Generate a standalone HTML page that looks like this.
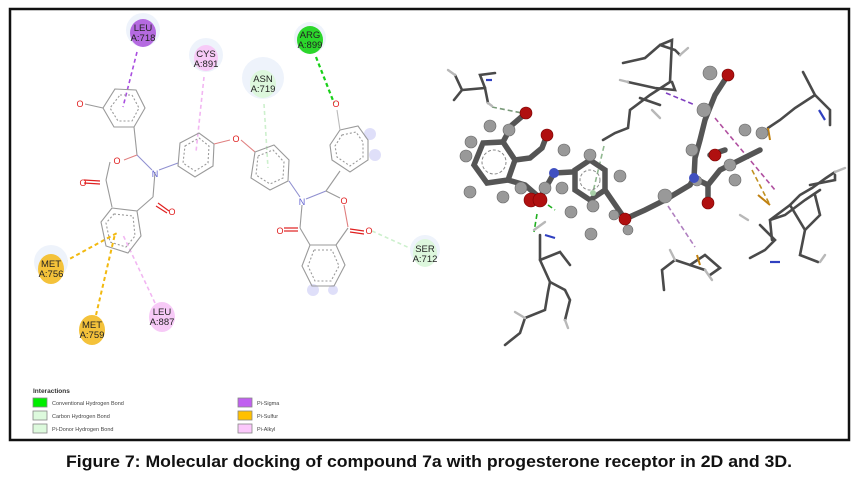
<!DOCTYPE html>
<html><head><meta charset="utf-8"><style>
html,body{margin:0;padding:0;background:#fff;width:858px;height:479px;overflow:hidden}
svg{display:block}
text{font-family:"Liberation Sans",sans-serif}
</style></head><body>
<svg width="858" height="479" viewBox="0 0 858 479" xmlns="http://www.w3.org/2000/svg">
<rect x="10" y="9" width="839" height="431" fill="#fff" stroke="#111" stroke-width="2.5"/>

<!-- ===== 2D diagram ===== -->
<g fill="none" stroke-width="1.6" stroke-dasharray="4,3">
<line x1="137" y1="52" x2="123" y2="107" stroke="#a94ee0"/>
<line x1="204" y1="77" x2="196" y2="152" stroke="#f2b6f2"/>
<line x1="264" y1="104" x2="268" y2="168" stroke="#cdf0cd"/>
<line x1="316" y1="57" x2="334" y2="103" stroke="#19d019" stroke-width="2.2"/>
<line x1="372" y1="231" x2="414" y2="250" stroke="#cdf0cd"/>
<line x1="64" y1="262" x2="117" y2="233" stroke="#f2b90f" stroke-width="2"/>
<line x1="96" y1="315" x2="115" y2="234" stroke="#f2b90f" stroke-width="2"/>
<line x1="155" y1="303" x2="123" y2="235" stroke="#f2b6f2"/>
</g>
<g fill="#eef3fb">
<circle cx="143" cy="30" r="17"/><circle cx="206" cy="55" r="17"/><circle cx="263" cy="78" r="21"/>
<circle cx="310" cy="38" r="16"/><circle cx="425" cy="250" r="15"/><circle cx="51" cy="262" r="17"/>
</g>
<g fill="#d8d8f8" opacity="0.8">
<circle cx="370" cy="134" r="6"/><circle cx="375" cy="155" r="6"/><circle cx="313" cy="290" r="6"/><circle cx="333" cy="290" r="5"/>
</g>
<g stroke-width="0">
<ellipse cx="143" cy="33" rx="13" ry="14" fill="#b46ae0"/>
<ellipse cx="206" cy="58" rx="12" ry="13" fill="#f7caf7"/>
<ellipse cx="263" cy="84" rx="13" ry="14" fill="#ddf7dd"/>
<ellipse cx="310" cy="40" rx="13" ry="14" fill="#2bd62b"/>
<ellipse cx="425" cy="253" rx="12" ry="14" fill="#ddf7dd"/>
<ellipse cx="51" cy="269" rx="13" ry="15" fill="#f4c23a"/>
<ellipse cx="92" cy="330" rx="13" ry="15" fill="#f4c23a"/>
<ellipse cx="162" cy="317" rx="13" ry="15" fill="#f7caf7"/>
</g>
<g font-size="9.5" fill="#222" text-anchor="middle">
<text x="143" y="31">LEU</text><text x="143" y="41">A:718</text>
<text x="206" y="57">CYS</text><text x="206" y="67">A:891</text>
<text x="263" y="82">ASN</text><text x="263" y="92">A:719</text>
<text x="310" y="38">ARG</text><text x="310" y="48">A:899</text>
<text x="425" y="252">SER</text><text x="425" y="262">A:712</text>
<text x="51" y="267">MET</text><text x="51" y="277">A:756</text>
<text x="92" y="328">MET</text><text x="92" y="338">A:759</text>
<text x="162" y="315">LEU</text><text x="162" y="325">A:887</text>
</g>
<g stroke="#9a9a9a" stroke-width="1.1" fill="none">
<polygon points="115,89 136,90 145,108 134,127 114,127 103,108"/>
<polygon points="120,95 132,95 139,108 132,121 118,121 110,108" stroke-dasharray="2,2"/>
<line x1="134" y1="127" x2="137" y2="155"/>
<line x1="137" y1="155" x2="124" y2="160" stroke="#e08080"/>
<line x1="110" y1="162" x2="106" y2="180"/>
<line x1="106" y1="180" x2="112" y2="207"/>
<line x1="155" y1="172" x2="153" y2="197"/>
<line x1="153" y1="197" x2="137" y2="211"/>
<line x1="137" y1="155" x2="152" y2="170" stroke="#9090d0"/>
<line x1="159" y1="170" x2="178" y2="163" stroke="#9090d0"/>
<polygon points="112,208 137,211 141,236 128,253 106,246 101,222"/>
<polygon points="114,214 133,216 135,236 126,247 110,242 106,223" stroke-dasharray="2,2"/>
<polygon points="180,143 199,133 214,144 213,166 195,177 178,166"/>
<polygon points="185,146 199,138 209,146 208,163 195,171 183,163" stroke-dasharray="2,2"/>
<line x1="214" y1="144" x2="230" y2="140" stroke="#e08080"/>
<line x1="241" y1="140" x2="255" y2="152" stroke="#e08080"/>
<polygon points="255,152 274,145 289,160 288,181 270,190 251,178"/>
<polygon points="258,156 273,150 284,162 283,178 270,184 256,175" stroke-dasharray="2,2"/>
<line x1="289" y1="181" x2="300" y2="197" stroke="#9090d0"/>
<line x1="306" y1="199" x2="326" y2="191" stroke="#9090d0"/>
<line x1="302" y1="205" x2="300" y2="228"/>
<line x1="326" y1="191" x2="340" y2="198"/>
<line x1="344" y1="205" x2="348" y2="227" stroke="#e08080"/>
<line x1="348" y1="228" x2="336" y2="245"/>
<line x1="300" y1="228" x2="310" y2="245"/>
<polygon points="310,245 336,245 345,265 334,286 312,286 302,266"/>
<polygon points="314,250 332,250 339,266 331,281 315,281 308,266" stroke-dasharray="2,2"/>
<line x1="326" y1="191" x2="340" y2="171"/>
<polygon points="340,130 358,126 368,140 368,160 350,172 332,160 330,145"/>
<polygon points="342,135 356,132 363,142 363,157 350,166 337,157 335,146" stroke-dasharray="2,2"/>
<line x1="340" y1="130" x2="337" y2="110" stroke="#bbb"/>
<line x1="103" y1="108" x2="85" y2="104"/>
</g>
<g stroke="#e02020" stroke-width="1.2" fill="none">
<line x1="84" y1="180" x2="100" y2="181"/><line x1="84" y1="183" x2="100" y2="184"/>
<line x1="158" y1="203" x2="169" y2="211"/><line x1="156" y1="206" x2="167" y2="213"/>
<line x1="284" y1="228" x2="298" y2="228"/><line x1="284" y1="231" x2="298" y2="231"/>
<line x1="350" y1="229" x2="364" y2="231"/><line x1="350" y1="232" x2="364" y2="234"/>
</g>
<g font-size="9" text-anchor="middle" fill="#e02020">
<text x="80" y="107">O</text><text x="117" y="164">O</text><text x="236" y="142">O</text>
<text x="344" y="204">O</text><text x="336" y="107">O</text>
<text x="83" y="186">O</text><text x="172" y="215">O</text><text x="280" y="234">O</text><text x="369" y="234">O</text>
</g>
<g font-size="9" text-anchor="middle" fill="#6060d0"><text x="155" y="177">N</text><text x="302" y="205">N</text></g>

<text x="33" y="393" font-size="6.5" font-weight="bold" fill="#333">Interactions</text>
<g stroke="#888" stroke-width="0.8">
<rect x="33" y="398" width="14" height="9" fill="#00ee00"/>
<rect x="33" y="411" width="14" height="9" fill="#ddfadd"/>
<rect x="33" y="424" width="14" height="9" fill="#ddfadd"/>
<rect x="238" y="398" width="14" height="9" fill="#c060f0"/>
<rect x="238" y="411" width="14" height="9" fill="#ffc000"/>
<rect x="238" y="424" width="14" height="9" fill="#fbc8fb"/>
</g>
<g font-size="5.5" fill="#444">
<text x="52" y="405">Conventional Hydrogen Bond</text>
<text x="52" y="418">Carbon Hydrogen Bond</text>
<text x="52" y="431">Pi-Donor Hydrogen Bond</text>
<text x="257" y="405">Pi-Sigma</text>
<text x="257" y="418">Pi-Sulfur</text>
<text x="257" y="431">Pi-Alkyl</text>
</g>

<!-- ===== 3D view ===== -->
<g stroke-dasharray="5,3" stroke-width="1.6" fill="none">
<line x1="492" y1="107" x2="522" y2="113" stroke="#7a9a7a"/>
<line x1="537" y1="214" x2="534" y2="232" stroke="#20b020"/>
<line x1="548" y1="205" x2="555" y2="210" stroke="#20b020"/>
<line x1="604" y1="146" x2="592" y2="196" stroke="#90b890"/>
<line x1="666" y1="93" x2="695" y2="105" stroke="#8040c0"/>
<line x1="715" y1="118" x2="775" y2="190" stroke="#b050a0"/>
<line x1="668" y1="206" x2="695" y2="247" stroke="#b080c0"/>
<line x1="752" y1="170" x2="770" y2="205" stroke="#c09020"/>
</g>
<g stroke="#4a4a4a" stroke-width="2.6" fill="none" stroke-linecap="round">
<polyline points="455,75 462,90 485,88 488,103"/><polyline points="485,88 480,75 495,73"/><line x1="462" y1="90" x2="454" y2="100"/>
<polyline points="623,63 645,58 660,45 672,40 670,82 650,95 630,110 628,128 615,133 603,140"/><polyline points="660,45 675,50 680,55"/>
<polyline points="628,82 655,88 675,90 672,82"/><polyline points="640,98 660,105"/>
<polyline points="803,72 815,95 795,108 780,120 768,128"/><polyline points="815,95 830,110 830,125"/>
<polyline points="540,235 540,260 550,282 548,292 545,310 525,318 520,333 505,345"/>
<polyline points="550,282 565,290 570,300 565,320"/><polyline points="540,260 560,252 570,265"/>
<polyline points="772,240 770,220 790,205 800,195 812,188 826,178 835,172"/>
<polyline points="760,225 775,240 765,250 750,258"/><polyline points="790,205 805,230 800,255 818,262"/>
<polyline points="770,220 785,215 805,200 820,190"/><polyline points="805,230 820,215 815,195"/>
<polyline points="705,255 690,265 675,260 662,270 664,290"/><polyline points="705,255 720,268 710,275"/><polyline points="690,265 705,270"/>
<polyline points="810,185 835,180 835,175"/>
</g>
<g stroke="#b8b8b8" stroke-width="2.4" fill="none" stroke-linecap="round">
<line x1="488" y1="103" x2="492" y2="106"/><line x1="455" y1="75" x2="448" y2="70"/>
<line x1="620" y1="80" x2="628" y2="82"/><line x1="680" y1="55" x2="688" y2="48"/><line x1="652" y1="110" x2="660" y2="118"/>
<line x1="545" y1="222" x2="534" y2="230"/><line x1="565" y1="320" x2="568" y2="328"/><line x1="525" y1="318" x2="515" y2="312"/>
<line x1="820" y1="262" x2="825" y2="255"/><line x1="705" y1="270" x2="712" y2="280"/><line x1="675" y1="260" x2="670" y2="250"/>
<line x1="748" y1="220" x2="740" y2="215"/><line x1="835" y1="172" x2="845" y2="168"/>
</g>
<g stroke="#3040c0" stroke-width="2.2"><line x1="486" y1="80" x2="492" y2="80"/><line x1="545" y1="235" x2="555" y2="238"/><line x1="819" y1="110" x2="825" y2="120"/><line x1="770" y1="262" x2="780" y2="262"/></g>
<g stroke="#c08010" stroke-width="2"><line x1="768" y1="128" x2="770" y2="140"/><line x1="758" y1="195" x2="770" y2="205"/><line x1="697" y1="255" x2="700" y2="265"/></g>

<g stroke="#555" stroke-width="5.5" fill="none" stroke-linecap="round">
<polygon points="483,143 503,142 515,160 508,180 487,183 474,165"/>
<polyline points="503,142 512,125 526,113"/>
<polyline points="515,160 530,158 542,148 547,135"/>
<polyline points="508,180 525,185 540,198"/>
<polyline points="540,198 554,173 572,172"/>
<polygon points="575,170 590,160 605,170 605,190 590,200 575,190"/>
<polyline points="605,190 625,219 645,210 665,200 690,185 694,178"/>
<polyline points="694,178 695,158 700,140 705,120 715,95 728,75"/>
<polyline points="694,178 708,185 708,203"/>
<polyline points="708,185 720,170 740,160 760,150"/>
<polyline points="710,155 725,150"/>
</g>
<g stroke="#888" stroke-width="1" fill="none" stroke-dasharray="3,2"><circle cx="494" cy="162" r="12"/><circle cx="590" cy="180" r="10"/></g>
<g fill="#999" stroke="#666" stroke-width="0.6">
<circle cx="490" cy="126" r="6"/><circle cx="509" cy="130" r="6"/><circle cx="471" cy="142" r="6"/><circle cx="466" cy="156" r="6"/>
<circle cx="470" cy="192" r="6"/><circle cx="503" cy="197" r="6"/><circle cx="564" cy="150" r="6"/><circle cx="521" cy="188" r="6"/>
<circle cx="590" cy="155" r="6"/><circle cx="620" cy="176" r="6"/><circle cx="593" cy="206" r="6"/><circle cx="562" cy="188" r="6"/>
<circle cx="571" cy="212" r="6"/><circle cx="591" cy="234" r="6"/><circle cx="628" cy="230" r="5"/><circle cx="614" cy="215" r="5"/>
<circle cx="665" cy="196" r="7"/><circle cx="710" cy="73" r="7"/><circle cx="704" cy="110" r="7"/><circle cx="692" cy="150" r="6"/>
<circle cx="730" cy="165" r="6"/><circle cx="745" cy="130" r="6"/><circle cx="762" cy="133" r="6"/><circle cx="735" cy="180" r="6"/>
<circle cx="697" cy="181" r="5"/><circle cx="545" cy="188" r="6"/>
</g>
<g fill="#b01010" stroke="#700" stroke-width="0.6">
<circle cx="526" cy="113" r="6"/><circle cx="547" cy="135" r="6"/><circle cx="531" cy="200" r="7"/><circle cx="540" cy="200" r="7"/>
<circle cx="625" cy="219" r="6"/><circle cx="708" cy="203" r="6"/><circle cx="728" cy="75" r="6"/><circle cx="715" cy="155" r="6"/>
</g>
<g fill="#4050c0"><circle cx="554" cy="173" r="5"/><circle cx="694" cy="178" r="5"/></g>
<circle cx="593" cy="193" r="3" fill="#a8d0a8"/>

<text x="429" y="467" font-size="16.5" font-weight="bold" fill="#111" text-anchor="middle" textLength="726" lengthAdjust="spacingAndGlyphs">Figure 7: Molecular docking of compound 7a with progesterone receptor in 2D and 3D.</text>
</svg>
</body></html>
